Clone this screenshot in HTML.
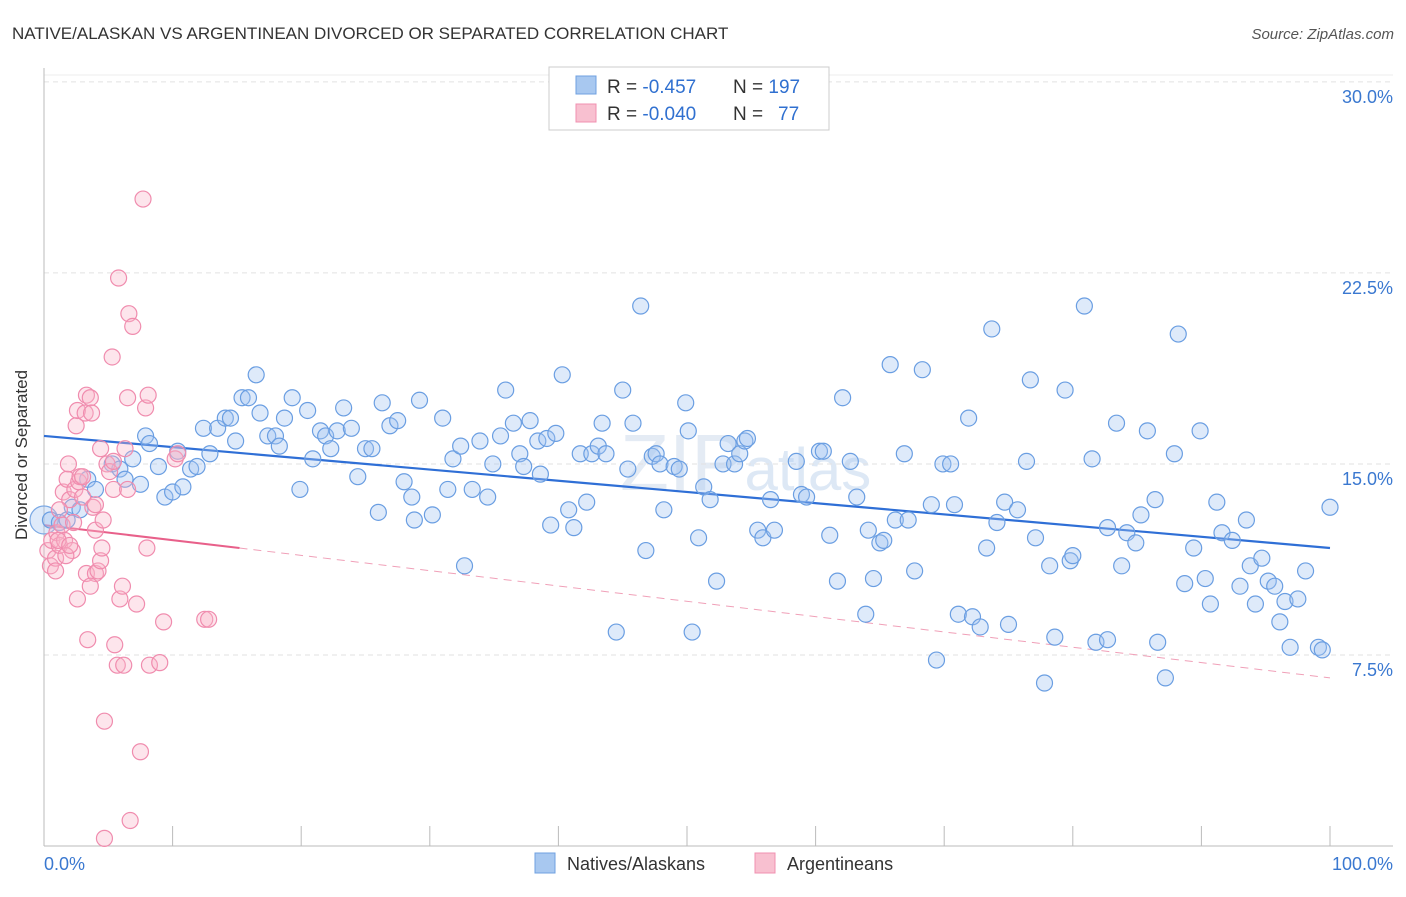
<!DOCTYPE html>
<html><head><meta charset="utf-8">
<style>
body{margin:0;background:#fff;font-family:"Liberation Sans",sans-serif;}
svg text{font-family:"Liberation Sans",sans-serif;}
</style></head>
<body>
<svg id="chart" width="1406" height="892" xmlns="http://www.w3.org/2000/svg">
<text x="12" y="39" font-size="17" fill="#333">NATIVE/ALASKAN VS ARGENTINEAN DIVORCED OR SEPARATED CORRELATION CHART</text>
<text x="1394" y="39" font-size="15" fill="#555" text-anchor="end" font-style="italic">Source: ZipAtlas.com</text>
<text x="27" y="455" font-size="17" fill="#333" text-anchor="middle" transform="rotate(-90 27 455)">Divorced or Separated</text>
<text x="620" y="490" font-size="80" fill="#e4ebf4" font-family="Liberation Serif">ZIP<tspan font-size="60" font-family="Liberation Sans" fill="#dde8f5">atlas</tspan></text>
<g id="grid"></g>
<g id="axes"></g>
<g id="lines"></g>
<g id="points"></g>
<g>
<rect x="549" y="67" width="280" height="63" fill="#fff" stroke="#ccc"/>
<rect x="576" y="76" width="20" height="18" fill="#a8c8f0" stroke="#6fa0e0"/>
<rect x="576" y="104" width="20" height="18" fill="#f8c0d0" stroke="#f090b0"/>
<text x="607" y="93" font-size="19" fill="#333">R = <tspan fill="#3070d0">-0.457</tspan><tspan x="733">N = </tspan><tspan fill="#3070d0">197</tspan></text>
<text x="607" y="120" font-size="19" fill="#333">R = <tspan fill="#3070d0">-0.040</tspan><tspan x="733">N = </tspan><tspan fill="#3070d0" x="778">77</tspan></text>
</g>
<g>
<rect x="535" y="853" width="20" height="20" fill="#a8c8f0" stroke="#6fa0e0"/>
<text x="567" y="870" font-size="18" fill="#333">Natives/Alaskans</text>
<rect x="755" y="853" width="20" height="20" fill="#f8c0d0" stroke="#f090b0"/>
<text x="787" y="870" font-size="18" fill="#333">Argentineans</text>
</g>
</svg>
<script>
const yTicks=[7.5,15,22.5,30];
const yTickLabels=["7.5%","15.0%","22.5%","30.0%"];
const xTickLabels=["0.0%","100.0%"];
const blueX=[0.5,1.2,1.8,2.2,2.8,3.4,4.0,5.3,5.9,6.3,6.9,7.5,7.9,8.2,8.9,9.4,10.0,10.4,10.8,11.4,11.9,12.4,12.9,13.5,14.1,14.5,14.9,15.4,15.9,16.5,16.8,17.4,18.0,18.3,18.7,19.3,19.9,20.5,20.9,21.5,21.9,22.3,22.8,23.3,23.9,24.4,25.0,25.5,26.0,26.3,26.9,27.5,28.0,28.6,28.8,29.2,30.2,31.0,31.4,31.8,32.4,32.7,33.3,33.9,34.5,34.9,35.5,35.9,36.5,37.0,37.3,37.8,38.4,38.6,39.1,39.4,39.8,40.3,40.8,41.2,41.7,42.2,42.6,43.1,43.4,43.7,44.5,45.0,45.4,45.8,46.4,46.8,47.3,47.6,47.9,48.2,49.0,49.4,49.9,50.1,50.4,50.9,51.3,51.8,52.3,52.8,53.2,53.7,54.1,54.5,54.7,55.5,55.9,56.5,56.8,58.5,58.9,59.3,60.3,60.6,61.1,61.7,62.1,62.7,63.2,63.9,64.1,64.5,65.0,65.3,65.8,66.2,66.9,67.2,67.7,68.3,69.0,69.4,69.9,70.5,70.8,71.1,71.9,72.2,72.8,73.3,73.7,74.1,74.7,75.0,75.7,76.4,76.7,77.1,77.8,78.2,78.6,79.4,79.8,80.0,80.9,81.5,81.8,82.7,82.7,83.4,83.8,84.2,84.9,85.3,85.8,86.4,86.6,87.2,87.9,88.2,88.7,89.4,89.9,90.3,90.7,91.2,91.6,92.4,93.0,93.5,93.8,94.2,94.7,95.2,95.7,96.1,96.5,96.9,97.5,98.1,99.1,99.4,100];
const blueY=[12.8,12.7,12.8,13.3,13.2,14.4,14.0,15.0,14.8,14.4,15.2,14.2,16.1,15.8,14.9,13.7,13.9,15.5,14.1,14.8,14.9,16.4,15.4,16.4,16.8,16.8,15.9,17.6,17.6,18.5,17.0,16.1,16.1,15.7,16.8,17.6,14.0,17.1,15.2,16.3,16.1,15.6,16.3,17.2,16.4,14.5,15.6,15.6,13.1,17.4,16.5,16.7,14.3,13.7,12.8,17.5,13.0,16.8,14.0,15.2,15.7,11.0,14.0,15.9,13.7,15.0,16.1,17.9,16.6,15.4,14.9,16.7,15.9,14.6,16.0,12.6,16.2,18.5,13.2,12.5,15.4,13.5,15.4,15.7,16.6,15.4,8.4,17.9,14.8,16.6,21.2,11.6,15.3,15.4,15.0,13.2,14.9,14.8,17.4,16.3,8.4,12.1,14.1,13.6,10.4,15.0,15.8,15.0,15.4,15.9,16.0,12.4,12.1,13.6,12.4,15.1,13.8,13.7,15.5,15.5,12.2,10.4,17.6,15.1,13.7,9.1,12.4,10.5,11.9,12.0,18.9,12.8,15.4,12.8,10.8,18.7,13.4,7.3,15.0,15.0,13.4,9.1,16.8,9.0,8.6,11.7,20.3,12.7,13.5,8.7,13.2,15.1,18.3,12.1,6.4,11.0,8.2,17.9,11.2,11.4,21.2,15.2,8.0,8.1,12.5,16.6,11.0,12.3,11.9,13.0,16.3,13.6,8.0,6.6,15.4,20.1,10.3,11.7,16.3,10.5,9.5,13.5,12.3,12.0,10.2,12.8,11.0,9.5,11.3,10.4,10.2,8.8,9.6,7.8,9.7,10.8,7.8,7.7,13.3];
const pinkX=[0.3,0.5,0.6,0.9,1.0,1.2,1.4,1.5,1.6,1.8,1.9,2.0,2.2,2.3,2.4,2.5,2.6,2.6,2.7,2.8,3.0,3.0,3.2,3.3,3.3,3.4,3.6,3.7,3.8,4.0,4.0,4.2,4.4,4.4,4.5,4.6,4.7,4.7,4.9,5.1,5.3,5.4,5.5,5.7,5.8,5.9,6.1,6.2,6.3,6.5,6.5,6.6,6.7,6.9,7.2,7.5,7.7,7.9,8.0,8.1,8.2,9.0,9.3,10.2,10.4,12.5,12.8,0.9,1.1,1.7,2.0,3.6,4.0,5.4,1.2];
const pinkY=[11.6,11.0,12.0,11.3,12.3,11.8,12.6,13.9,12.0,14.4,15.0,13.6,11.6,12.7,14.0,16.5,17.1,9.7,14.3,14.5,14.5,13.7,17.0,17.7,10.7,8.1,17.6,17.0,13.3,10.7,12.4,10.8,15.6,11.2,11.7,12.8,0.3,4.9,15.0,14.7,19.2,14.0,7.9,7.1,22.3,9.7,10.2,7.1,15.6,17.6,14.0,20.9,1.0,20.4,9.5,3.7,25.4,17.2,11.7,17.7,7.1,7.2,8.8,15.2,15.4,8.9,8.9,10.8,12.0,11.4,11.8,10.2,13.4,15.1,13.2];
const blueLine=[16.1,11.7];
const pinkLine=[12.6,11.7,6.6];
const NS="http://www.w3.org/2000/svg";
const X0=44,X1=1330,Y0=846,YPER=25.47;
const sx=v=>X0+(X1-X0)*v/100;
const sy=v=>Y0-v*YPER;
function mk(tag,attrs,parent){const e=document.createElementNS(NS,tag);for(const k in attrs)e.setAttribute(k,attrs[k]);parent.appendChild(e);return e;}
const grid=document.getElementById('grid'),axes=document.getElementById('axes'),lines=document.getElementById('lines'),pts=document.getElementById('points');
mk('line',{x1:44,y1:75,x2:1393,y2:75,stroke:'#eee'},grid);
yTicks.forEach((t,i)=>{
  const g=mk('line',{x1:44,y1:sy(t),x2:1393,y2:sy(t),stroke:'#e2e2e2','stroke-dasharray':'5,4'},grid);
  
  
  const tx=mk('text',{x:1393,y:sy(t)+21,'font-size':18,fill:'#3a78d0','text-anchor':'end'},axes);
  tx.textContent=yTickLabels[i];
  
  
});
const ax=mk('line',{x1:44,y1:68,x2:44,y2:846,stroke:'#bbb'},axes);


const bx=mk('line',{x1:44,y1:846,x2:1393,y2:846,stroke:'#bbb'},axes);


for(let i=1;i<=10;i++){
  const tk=mk('line',{x1:sx(i*10),y1:826,x2:sx(i*10),y2:846,stroke:'#bbb'},axes);
  
  
}
[[0,'start',44],[100,'end',1393]].forEach((d,i)=>{
  const t=mk('text',{x:d[2],y:870,'font-size':18,fill:'#3a78d0','text-anchor':d[1]},axes);
  t.textContent=xTickLabels[i];
  
  
});
function dot(x,y,fill,stroke,name,r){
  const c=mk('circle',{cx:sx(x),cy:sy(y),r:r||8,fill:fill,stroke:stroke,'stroke-width':1.2},pts);
  
  
}
dot(0,12.8,'rgba(160,196,240,0.35)','#7aa8e4','native-point-large',14);
blueX.forEach((x,i)=>dot(x,blueY[i],'rgba(160,196,240,0.35)','#6a9ee2','native-point'));
pinkX.forEach((x,i)=>dot(x,pinkY[i],'rgba(248,180,200,0.35)','#f08cae','argentinean-point'));
const bl=mk('line',{x1:sx(0),y1:sy(blueLine[0]),x2:sx(100),y2:sy(blueLine[1]),stroke:'#2f6fd6','stroke-width':2.2},lines);


const pl=mk('line',{x1:sx(0),y1:sy(pinkLine[0]),x2:sx(15.2),y2:sy(pinkLine[1]),stroke:'#e8608a','stroke-width':2},lines);


const pd=mk('line',{x1:sx(15.2),y1:sy(pinkLine[1]),x2:sx(100),y2:sy(pinkLine[2]),stroke:'#f0a0b8','stroke-width':1,'stroke-dasharray':'8,6'},lines);


</script>
</body></html>
